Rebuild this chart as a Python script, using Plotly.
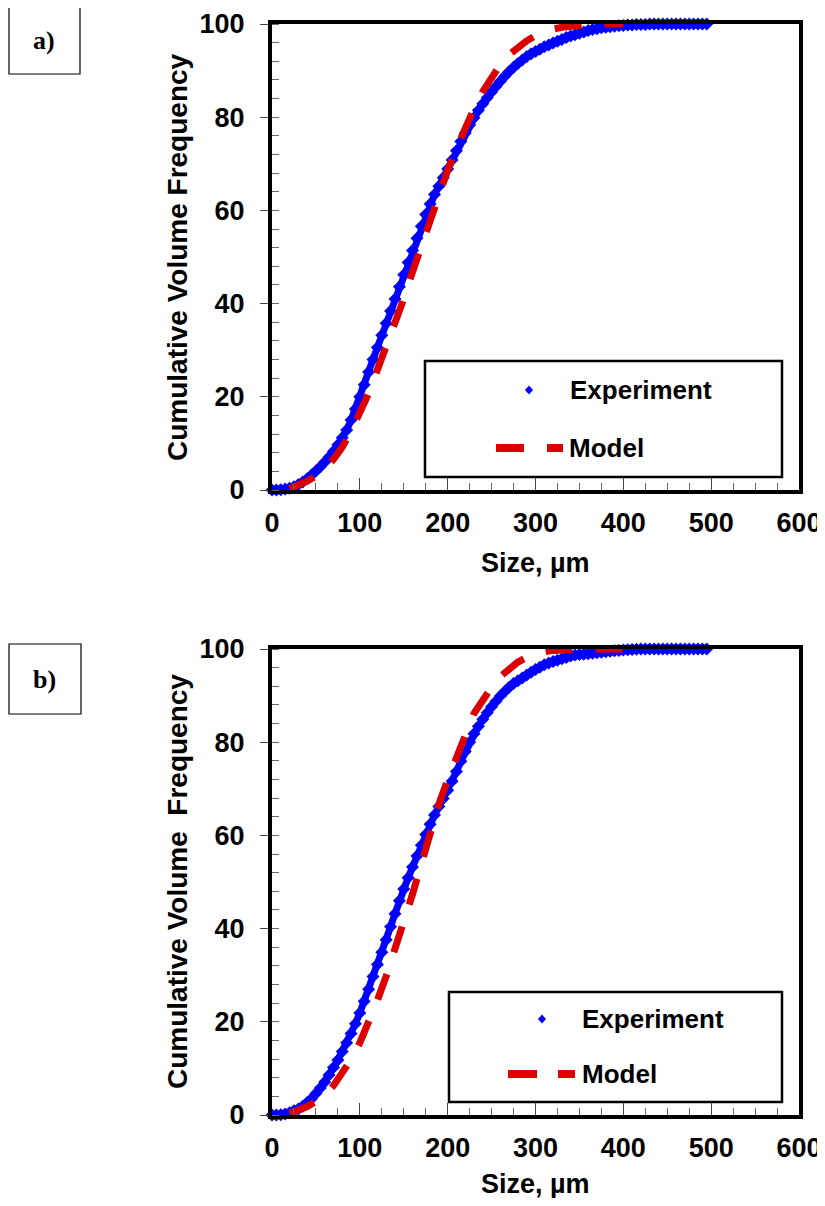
import plotly.graph_objects as go

# ---------------- data ----------------
size_exp = [i * 5 for i in range(100)]  # 0 .. 495 um

exp_a = [0, 0, 0.05, 0.2, 0.4, 0.7, 1.2, 1.7, 2.4, 3.2,
         4.1, 5.0, 6.0, 7.1, 8.3, 9.7, 11.2, 12.9, 15.0, 17.4,
         20.0, 22.6, 25.3, 28.0, 30.6, 33.2, 35.8, 38.4, 41.0, 43.6,
         46.2, 48.8, 51.4, 54.0, 56.6, 59.1, 61.4, 63.4, 65.2, 67.0,
         68.9, 70.8, 72.8, 74.8, 76.6, 78.3, 79.9, 81.5, 82.9, 84.2,
         85.4, 86.6, 87.7, 88.8, 89.8, 90.7, 91.5, 92.3, 93.0, 93.6,
         94.1, 94.6, 95.1, 95.5, 95.9, 96.3, 96.7, 97.1, 97.4, 97.7,
         98.0, 98.3, 98.6, 98.8, 99.0, 99.2, 99.3, 99.4, 99.5, 99.6,
         99.7, 99.8, 99.8, 99.9, 99.9, 99.9, 100, 100, 100, 100,
         100, 100, 100, 100, 100, 100, 100, 100, 100, 100]

exp_b = [0, 0, 0.05, 0.2, 0.5, 0.9, 1.3, 1.9, 2.7, 3.5,
         4.6, 5.8, 7.1, 8.6, 10.2, 11.8, 13.6, 15.5, 17.5, 19.6,
         21.9, 24.4, 27.0, 29.7, 32.3, 34.9, 37.6, 40.4, 43.2, 46.0,
         48.5, 50.9, 53.2, 55.6, 57.9, 60.2, 62.4, 64.4, 66.2, 67.9,
         69.7, 71.6, 73.7, 75.9, 78.0, 80.0, 81.8, 83.4, 84.9, 86.3,
         87.6, 88.8, 89.9, 90.9, 91.8, 92.6, 93.2, 93.8, 94.4, 95.0,
         95.6, 96.1, 96.6, 97.0, 97.3, 97.6, 97.9, 98.2, 98.5, 98.7,
         98.8, 98.9, 99.0, 99.1, 99.2, 99.3, 99.4, 99.5, 99.6, 99.7,
         99.8, 99.85, 99.9, 99.95, 100, 100, 100, 100, 100, 100,
         100, 100, 100, 100, 100, 100, 100, 100, 100, 100]

size_model = [20 + i * 10 for i in range(39)]  # 20 .. 400 um

model_a = [0.3, 1.0, 1.9, 3.0, 4.4, 6.6, 9.2, 12.6, 16.3, 20.7,
           25.8, 30.8, 35.6, 41.0, 46.8, 52.5, 58.2, 63.7, 68.6, 73.3,
           77.7, 81.8, 85.5, 88.6, 91.3, 93.4, 95.0, 96.4, 97.5, 98.3,
           98.9, 99.3, 99.6, 99.8, 99.9, 100, 100, 100, 100]

model_b = [0.3, 0.9, 1.8, 2.9, 4.3, 6.3, 8.8, 11.9, 15.5, 19.8,
           24.6, 29.8, 35.3, 41.0, 47.4, 53.9, 60.4, 66.7, 71.9, 77.2,
           81.4, 86.2, 89.3, 91.8, 94.1, 95.9, 97.2, 98.2, 98.9, 99.4,
           99.7, 99.85, 99.95, 100, 100, 100, 100, 100, 100]

x_ticks = [0, 100, 200, 300, 400, 500, 600]
y_ticks = [0, 20, 40, 60, 80, 100]

panel_labels = ["a)", "b)"]
y_titles = ["Cumulative Volume Frequency", "Cumulative Volume\u00a0 Frequency"]
x_title = "Size, \u00b5m"
legend_names = ["Experiment", "Model"]

BLUE = "#0000FF"
RED = "#DD0000"
# page body has an 8px margin; the figure is sized so the page does not scroll
OFF = 8
W, H = 816, 1190
FONT = "Liberation Sans, Arial, Helvetica, sans-serif"


def X(px):
    return (px - OFF) / W


def Y(py):
    return 1 - (py - OFF) / H


fig = go.Figure()

series = [(exp_a, model_a, "x", "y"), (exp_b, model_b, "x2", "y2")]
for exp_vals, mod_vals, xa, ya in series:
    fig.add_trace(go.Scatter(
        x=size_exp, y=exp_vals, xaxis=xa, yaxis=ya,
        mode="lines+markers", cliponaxis=False,
        line=dict(color=BLUE, width=7),
        marker=dict(symbol="diamond", size=10, color=BLUE, line=dict(width=0)),
        showlegend=False, name=legend_names[0]))
    fig.add_trace(go.Scatter(
        x=size_model, y=mod_vals, xaxis=xa, yaxis=ya,
        mode="lines", cliponaxis=False,
        line=dict(color=RED, width=7, dash="27px,23px"),
        showlegend=False, name=legend_names[1]))

# panel geometry (page pixel positions)
panels = [
    dict(y0=490, y1=24, box=(7, 6, 80, 74),
         leg=(425, 361, 782, 477), dia=(529, 390), etxt=568, mtxt=567,
         my=448, d1=(496, 524), d2=(547, 563), xt=563),
    dict(y0=1115, y1=649, box=(7, 644, 81, 714),
         leg=(449, 992, 782, 1102), dia=(542, 1019), etxt=580, mtxt=580,
         my=1074, d1=(508, 537), d2=(558, 575), xt=1184),
]

axis_common = dict(
    showline=True, linecolor="black", linewidth=4, mirror=True,
    showgrid=False, zeroline=False, automargin=False,
    tickfont=dict(family=FONT, size=27, color="black", weight="bold"),
    tickcolor="#444", tickwidth=1,
)

layout_axes = {}
for i, p in enumerate(panels):
    sfx = "" if i == 0 else "2"
    layout_axes["xaxis" + sfx] = dict(
        axis_common, domain=[X(272), X(799)], range=[0, 600],
        anchor="y" + sfx, tickmode="array", tickvals=x_ticks,
        ticks="inside", ticklen=12, ticklabelstandoff=6,
        minor=dict(ticks="inside", ticklen=7, dtick=25, tickcolor="#666", tickwidth=1))
    layout_axes["yaxis" + sfx] = dict(
        axis_common, domain=[Y(p["y0"]), Y(p["y1"])], range=[0, 100],
        anchor="x" + sfx, tickmode="array", tickvals=y_ticks,
        ticks="outside", ticklen=8, ticklabelstandoff=10,
        minor=dict(ticks="inside", ticklen=7, dtick=4, tickcolor="#666", tickwidth=1))

shapes = []
annotations = []
for i, p in enumerate(panels):
    bx0, by0, bx1, by1 = p["box"]
    shapes.append(dict(type="rect", xref="paper", yref="paper",
                       x0=X(max(bx0, OFF + 1)), x1=X(bx1), y0=Y(by0), y1=Y(by1),
                       line=dict(color="black", width=1.2)))
    annotations.append(dict(text=panel_labels[i], xref="paper", yref="paper",
                            x=X((bx0 + bx1) / 2), y=Y((by0 + by1) / 2),
                            xanchor="center", yanchor="middle", showarrow=False,
                            font=dict(family="Liberation Serif, Times New Roman, serif",
                                      size=26, color="black", weight="bold")))
    # axis titles
    annotations.append(dict(text=y_titles[i], xref="paper", yref="paper",
                            x=X(177), y=Y((p["y0"] + p["y1"]) / 2),
                            xanchor="center", yanchor="middle", textangle=-90,
                            showarrow=False,
                            font=dict(family=FONT, size=28, color="black", weight="bold")))
    annotations.append(dict(text=x_title, xref="paper", yref="paper",
                            x=X(535), y=Y(p["xt"]),
                            xanchor="center", yanchor="middle", showarrow=False,
                            font=dict(family=FONT, size=27, color="black", weight="bold")))
    # legend box
    lx0, ly0, lx1, ly1 = p["leg"]
    shapes.append(dict(type="rect", xref="paper", yref="paper",
                       x0=X(lx0), x1=X(lx1), y0=Y(ly0), y1=Y(ly1),
                       line=dict(color="black", width=2.5), fillcolor="white",
                       layer="below"))
    dx, dy = p["dia"]
    shapes.append(dict(type="path", xref="paper", yref="paper",
                       path=f"M {X(dx-4)},{Y(dy)} L {X(dx)},{Y(dy-4.5)} L {X(dx+4)},{Y(dy)} L {X(dx)},{Y(dy+4.5)} Z",
                       fillcolor=BLUE, line=dict(width=0)))
    for (a, b) in (p["d1"], p["d2"]):
        shapes.append(dict(type="line", xref="paper", yref="paper",
                           x0=X(a), x1=X(b), y0=Y(p["my"]), y1=Y(p["my"]),
                           line=dict(color=RED, width=8)))
    annotations.append(dict(text=legend_names[0], xref="paper", yref="paper",
                            x=X(p["etxt"]), y=Y(dy), xanchor="left", yanchor="middle",
                            showarrow=False,
                            font=dict(family=FONT, size=26, color="black", weight="bold")))
    annotations.append(dict(text=legend_names[1], xref="paper", yref="paper",
                            x=X(p["mtxt"]), y=Y(p["my"]), xanchor="left", yanchor="middle",
                            showarrow=False,
                            font=dict(family=FONT, size=26, color="black", weight="bold")))

fig.update_layout(
    width=W, height=H,
    margin=dict(l=0, r=0, t=0, b=0, autoexpand=False),
    paper_bgcolor="white", plot_bgcolor="white",
    showlegend=False,
    shapes=shapes, annotations=annotations,
    **layout_axes,
)

fig.write_html("out.html")
